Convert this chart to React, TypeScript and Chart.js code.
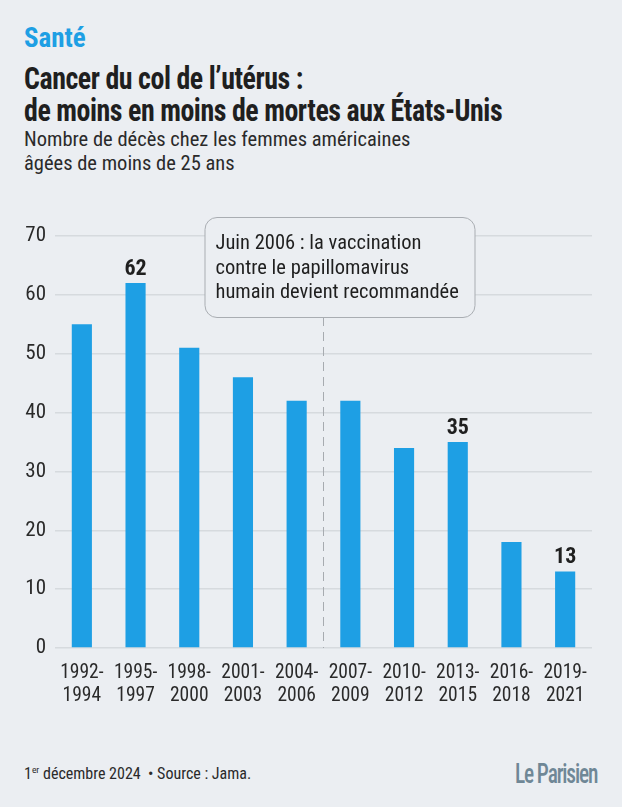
import React, { useEffect, useRef } from "react";
import { Chart, registerables } from "chart.js";

Chart.register(...registerables);

const categories: string[][] = [
  ["1992-", "1994"], ["1995-", "1997"], ["1998-", "2000"], ["2001-", "2003"], ["2004-", "2006"],
  ["2007-", "2009"], ["2010-", "2012"], ["2013-", "2015"], ["2016-", "2018"], ["2019-", "2021"],
];
const deaths: number[] = [55, 62, 51, 46, 42, 42, 34, 35, 18, 13];
const labelledIdx: number[] = [1, 7, 9];
const yTicks: number[] = [0, 10, 20, 30, 40, 50, 60, 70];
const annotationLines: string[] = [
  "Juin 2006 : la vaccination",
  "contre le papillomavirus",
  "humain devient recommandée",
];

const FONT = '"Roboto Condensed", "Liberation Sans Narrow", "DejaVu Sans Condensed", "Arial Narrow", sans-serif';
const BG = "#ebeef2";
const BLUE = "#1e9fe4";

export default function App() {
  const ref = useRef<HTMLCanvasElement>(null);
  useEffect(() => {
    document.body.style.margin = "0";
    const canvas = ref.current!;
    const overlay = {
      id: "overlay",
      afterDatasetsDraw(chart: any) {
        const ctx = chart.ctx;
        const x = chart.scales.x;
        const y = chart.scales.y;
        const meta = chart.getDatasetMeta(0);
        ctx.save();
        ctx.fillStyle = "#1f1f1f";
        ctx.font = `bold 22px ${FONT}`;
        ctx.textAlign = "center";
        ctx.textBaseline = "alphabetic";
        labelledIdx.forEach((i) => {
          const el = meta.data[i];
          ctx.fillText(String(deaths[i]), el.x, el.y - 8);
        });
        ctx.restore();
        const xm = (x.getPixelForValue(4) + x.getPixelForValue(5)) / 2;
        const boxTop = y.getPixelForValue(70) - 19;
        const boxBottom = boxTop + 100;
        ctx.save();
        ctx.strokeStyle = "#a7abb0";
        ctx.lineWidth = 1;
        ctx.setLineDash([9, 6]);
        ctx.beginPath();
        ctx.moveTo(xm, boxBottom);
        ctx.lineTo(xm, y.getPixelForValue(0));
        ctx.stroke();
        ctx.setLineDash([]);
        const bx = xm - 119, bw = 270, bh = 100;
        ctx.fillStyle = BG;
        ctx.strokeStyle = "#a9adb2";
        ctx.beginPath();
        (ctx as any).roundRect(bx + 0.5, boxTop + 0.5, bw, bh, 12);
        ctx.fill();
        ctx.stroke();
        ctx.fillStyle = "#1f1f1f";
        ctx.font = `20.5px ${FONT}`;
        ctx.textAlign = "left";
        ctx.textBaseline = "middle";
        annotationLines.forEach((t, k) => {
          ctx.fillText(t, bx + 11, boxTop + 27 + k * 24.5);
        });
        ctx.restore();
      },
    };
    const chart = new Chart(canvas, {
      type: "bar",
      data: {
        labels: categories,
        datasets: [
          {
            data: deaths,
            backgroundColor: BLUE,
            barPercentage: 0.375,
            categoryPercentage: 1,
          },
        ],
      },
      options: {
        animation: false,
        responsive: false,
        layout: { padding: { top: 36, right: 30, left: 0, bottom: 0 } },
        plugins: { legend: { display: false }, tooltip: { enabled: false } },
        scales: {
          x: {
            grid: { display: false },
            border: { display: false },
            ticks: { color: "#2a2a2a", font: { family: FONT, size: 19.5, lineHeight: 1.18 }, padding: 6, maxRotation: 0, autoSkip: false },
            afterFit: (s: any) => { s.height = 62; },
          },
          y: {
            min: 0,
            max: 70,
            afterBuildTicks: (s: any) => { s.ticks = yTicks.map((v) => ({ value: v })); },
            grid: { color: "#d6dade", lineWidth: 1.5, drawTicks: false },
            border: { display: false },
            ticks: { color: "#2a2a2a", font: { family: FONT, size: 21 }, padding: 9 },
            afterFit: (s: any) => { s.width = 55; },
          },
        },
      },
      plugins: [overlay],
    });
    return () => chart.destroy();
  }, []);

  const txt: React.CSSProperties = { position: "absolute", left: 24, margin: 0, fontFamily: FONT, whiteSpace: "nowrap", transformOrigin: "left top" };
  return (
    <div style={{ position: "relative", width: 622, height: 807, background: BG, overflow: "hidden" }}>
      <div style={{ ...txt, top: 22, fontSize: 27, fontWeight: 700, color: "#1e9fe4" }}>Santé</div>
      <div style={{ ...txt, top: 63, fontSize: 31, fontWeight: 700, color: "#1f1f1f", lineHeight: "32px", letterSpacing: -0.5, transform: "scaleX(0.9)" }}>
        Cancer du col de l’utérus :<br />de moins en moins de mortes aux États-Unis
      </div>
      <div style={{ ...txt, top: 127, fontSize: 20.5, color: "#2a2a2a", lineHeight: "24px" }}>
        Nombre de décès chez les femmes américaines<br />âgées de moins de 25 ans
      </div>
      <canvas ref={ref} width={622} height={510} style={{ position: "absolute", left: 0, top: 200, width: 622, height: 510 }} />
      <div style={{ ...txt, top: 764, fontSize: 16, color: "#2a2a2a" }}>
        1<sup style={{ fontSize: 9.5 }}>er</sup> décembre 2024 &nbsp;• Source : Jama.
      </div>
      <div style={{ ...txt, left: 515, top: 757, fontSize: 28, color: "#6f8796", letterSpacing: -1.5, fontWeight: 500, transform: "scaleX(0.765)" }}>
        Le Parisien
      </div>
    </div>
  );
}
